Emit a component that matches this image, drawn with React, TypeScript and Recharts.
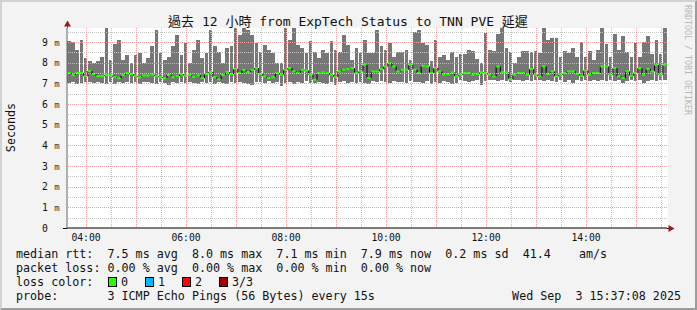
import React from 'react';
import { ComposedChart, Bar, XAxis, YAxis, CartesianGrid } from 'recharts';

// 12 hours of 5-minute consolidated RTT values (ms)
const maxMs = [
  9.03, 9.0, 8.62, 9.11, 8.22, 8.06, 7.98, 8.06, 8.3, 9.68,
  8.14, 8.9, 9.11, 8.14, 8.38, 7.98, 8.38, 8.46, 7.98, 8.22,
  8.79, 9.59, 8.46, 8.14, 8.3, 8.79, 9.35, 8.38, 8.95, 7.98,
  8.62, 9.11, 8.22, 8.46, 9.59, 8.79, 8.54, 7.98, 8.71, 8.8,
  9.68, 9.35, 9.68, 9.59, 9.35, 8.95, 8.54, 8.87, 8.62, 8.46,
  7.98, 8.0, 9.68, 9.11, 9.68, 8.87, 8.71, 8.46, 9.03, 8.54,
  8.22, 8.62, 8.46, 9.03, 8.62, 8.54, 9.35, 8.87, 8.14, 8.71,
  8.46, 9.11, 8.46, 8.46, 9.59, 8.79, 8.62, 8.95, 8.3, 8.54,
  8.54, 8.62, 8.14, 9.51, 9.59, 8.95, 8.87, 8.06, 9.11, 8.3,
  8.38, 8.14, 8.54, 8.3, 8.4, 8.4, 8.6, 8.55, 8.2, 8.0,
  9.45, 8.6, 8.55, 9.4, 9.68, 8.7, 8.5, 8.0, 8.3, 8.55,
  8.55, 8.5, 8.55, 8.45, 9.68, 9.1, 9.2, 9.2, 8.3, 8.55,
  8.45, 8.7, 8.3, 9.0, 8.3, 8.55, 8.15, 8.6, 9.68, 8.9,
  8.3, 9.4, 8.6, 9.3, 8.5, 8.3, 8.95, 8.3, 9.0, 9.3,
  8.4, 9.1, 8.4, 9.68,
];

const minMs = [
  7.02, 7.06, 6.98, 7.03, 7.05, 7.08, 7.0, 7.06, 7.02, 6.97,
  7.05, 6.95, 7.07, 7.02, 7.08, 7.02, 7.05, 6.97, 7.06, 7.08,
  7.03, 6.97, 7.07, 7.0, 6.92, 7.05, 7.02, 7.07, 7.03, 7.08,
  7.02, 6.97, 7.05, 7.01, 7.07, 6.99, 7.05, 7.02, 6.95, 7.07,
  7.02, 7.09, 7.03, 6.97, 6.9, 7.08, 7.06, 7.03, 7.1, 7.04,
  7.08, 6.85, 7.03, 7.08, 6.98, 7.06, 7.02, 7.1, 7.04, 7.0,
  7.08, 7.03, 6.98, 7.06, 6.93, 7.08, 7.1, 7.03, 7.06, 7.0,
  7.08, 7.04, 6.98, 7.1, 7.06, 7.13, 7.08, 7.03, 7.1, 7.06,
  7.08, 7.0, 7.12, 7.06, 7.08, 7.04, 7.1, 6.98, 7.08, 7.03,
  7.1, 7.06, 6.96, 7.03, 7.15, 7.13, 7.07, 7.13, 7.15, 6.92,
  7.1, 7.15, 7.17, 7.11, 7.15, 7.13, 7.07, 7.15, 7.17, 7.1,
  7.15, 7.11, 7.17, 7.15, 7.1, 7.15, 7.13, 7.09, 7.17, 7.05,
  7.15, 7.0, 7.17, 7.13, 7.15, 7.1, 7.17, 7.11, 7.15, 7.13,
  7.17, 7.1, 7.15, 7.03, 7.13, 7.17, 7.1, 7.15, 7.0, 7.13,
  7.15, 7.1, 7.17, 7.15,
];

const medMs = [
  7.5, 7.4, 7.5, 7.5, 7.35, 7.6, 7.45, 7.35, 7.35, 7.4,
  7.38, 7.3, 7.25, 7.4, 7.5, 7.45, 7.35, 7.3, 7.38, 7.38,
  7.42, 7.35, 7.3, 7.25, 7.4, 7.3, 7.35, 7.45, 7.38, 7.4,
  7.32, 7.38, 7.25, 7.45, 7.55, 7.3, 7.2, 7.4, 7.55, 7.45,
  7.7, 7.5, 7.65, 7.55,
  7.66, 7.74, 7.45, 7.34, 7.26, 7.3,
  7.5, 7.42, 7.66, 7.74, 7.58, 7.5, 7.66, 7.62, 7.42, 7.18,
  7.5, 7.53, 7.5, 7.4, 7.31, 7.58, 7.66, 7.69, 7.74, 7.5,
  7.58, 7.9, 7.26, 7.58, 7.58, 7.69, 7.82, 7.98, 7.82, 7.58,
  7.66, 7.66, 7.9, 7.66, 7.5, 7.85, 7.82, 7.5, 7.74, 7.58,
  7.42, 7.45, 7.53, 7.34,
  7.42, 7.5, 7.5, 7.42, 7.45, 7.53,
  7.5, 7.42, 7.34, 7.82, 7.53, 7.53, 7.2, 7.42, 7.5, 7.5,
  7.42, 7.69, 7.42, 7.34, 7.82, 7.46, 7.58, 7.34, 7.42, 7.5,
  7.58, 7.58, 7.46, 7.37, 7.62, 7.42, 7.5, 7.5, 7.82, 7.82,
  7.42, 7.74, 7.34, 7.26, 7.58, 7.37, 7.5, 7.74, 7.42, 7.7,
  7.58, 7.9, 7.42, 7.9,
];

// time axis (hours of day); window ends 15:37:08, 12 hours long, 5-minute steps
const START_HOUR = 3 + 37 / 60 + 8 / 3600;
const SPAN_HOURS = 12;
const STEPS_PER_HOUR = 12;
const xTickHours = [4, 6, 8, 10, 12, 14];
const xMajorGrid = [4, 5, 6, 7, 8, 9, 10, 11, 12, 13, 14, 15];
const xMinorGrid = [4.5, 5.5, 6.5, 7.5, 8.5, 9.5, 10.5, 11.5, 12.5, 13.5, 14.5, 15.5];
// y ticks: whole milliseconds are labelled major lines, halves are minor lines
const yTicks = [0, 0.5, 1, 1.5, 2, 2.5, 3, 3.5, 4, 4.5, 5, 5.5, 6, 6.5, 7, 7.5, 8, 8.5, 9, 9.5];
const Y_TOP = 9.68;
const MEDIAN_BAND = 0.1;

const title = '過去 12 小時 from ExpTech Status to TNN PVE 延遲';
const legendLines = [
  'median rtt:  7.5 ms avg  8.0 ms max  7.1 ms min  7.9 ms now  0.2 ms sd  41.4    am/s',
  'packet loss: 0.00 % avg  0.00 % max  0.00 % min  0.00 % now',
];
const lossColors = [
  { label: '0', color: '#26ff00' },
  { label: '1', color: '#00b8ff' },
  { label: '2', color: '#ff0000' },
  { label: '3/3', color: '#a00000' },
];
const probeText = 'probe:       3 ICMP Echo Pings (56 Bytes) every 15s';
const dateText = 'Wed Sep  3 15:37:08 2025';

const data = maxMs.map((mx, i) => ({
  i,
  t: START_HOUR + (i + 0.5) / STEPS_PER_HOUR,
  lo: minMs[i],
  hi: mx,
  span: mx - minMs[i],
  medBase: medMs[i] - MEDIAN_BAND / 2,
  medBand: MEDIAN_BAND,
  med: medMs[i],
  prev: i > 0 ? medMs[i - 1] : medMs[i],
}));

const MONO = '"DejaVu Sans Mono", "Noto Sans CJK TC", monospace';
const MAJOR = '#eea0a0';
const MINOR = '#c4c4c4';
const BAR_W = 600 / 144;
const PLOT_W = 600;

const MedianShape = (props: any) => {
  const { x, y, width, height, payload } = props;
  if (height == null || !payload) return null;
  const ppu = height / MEDIAN_BAND;
  const yc = y + height / 2;
  const yPrev = yc + (payload.med - payload.prev) * ppu;
  return (
    <g>
      {payload.i > 0 && Math.abs(yPrev - yc) > 0.5 ? (
        <line x1={x} x2={x} y1={yc} y2={yPrev} stroke="#000" strokeWidth={1} />
      ) : null}
      <rect x={x} y={y} width={width} height={height} fill="#26ff00" />
    </g>
  );
};

const fmtHour = (h: number) => `${String(h).padStart(2, '0')}:00`;

const XTick = (props: any) => {
  const { x, y, payload } = props;
  return (
    <text x={x} y={y + 13.3} textAnchor="middle" fontFamily={MONO} fontSize={9.75} fill="#111">
      {fmtHour(payload.value)}
    </text>
  );
};

const YTick = (props: any) => {
  const { x, y, payload } = props;
  const v = payload.value;
  const ys = Math.round(y) + 0.5;
  if (!Number.isInteger(v)) {
    return <line x1={x + 1} x2={x + PLOT_W} y1={ys} y2={ys} stroke={MINOR} strokeDasharray="1 1" />;
  }
  return (
    <g>
      {v !== 0 ? <line x1={x + 1} x2={x + PLOT_W} y1={ys} y2={ys} stroke={MAJOR} strokeDasharray="1 1" /> : null}
      <text x={x - 22} y={y + 3.5} textAnchor="middle" fontFamily={MONO} fontSize={9.75} fill="#111">
        {v}
      </text>
      {v !== 0 ? (
        <text x={x - 10} y={y + 3.5} textAnchor="middle" fontFamily={MONO} fontSize={9} fill="#333">
          m
        </text>
      ) : null}
    </g>
  );
};

const timeDomain = [START_HOUR, START_HOUR + SPAN_HOURS];

export default function App() {
  return (
    <div style={{ position: 'absolute', left: 0, top: 0, width: 697, height: 310, background: '#f3f3f3' }}>
      <style>{`.smoke path, .smoke rect { shape-rendering: crispEdges; }
.gridtop line { shape-rendering: crispEdges; }`}</style>
      <div
        style={{
          position: 'absolute', left: 0, top: 0, width: 697, height: 310, boxSizing: 'border-box',
          borderTop: '2px solid #d2d2d2', borderLeft: '2px solid #d2d2d2',
          borderBottom: '2px solid #9c9c9c', borderRight: '2px solid #9c9c9c',
        }}
      />
      <div style={{ position: 'absolute', left: 67, top: 28, width: 601, height: 200, background: '#ffffff' }} />
      <div style={{ position: 'absolute', left: 0, top: 0 }}>
        <ComposedChart
          width={697}
          height={310}
          data={data}
          margin={{ top: 28, right: 30, left: 0, bottom: 62 }}
          barCategoryGap={0}
          barGap={0}
        >
          <XAxis
            dataKey="t"
            type="number"
            domain={timeDomain}
            allowDataOverflow
            ticks={xTickHours}
            interval={0}
            tick={<XTick />}
            tickLine={false}
            tickSize={0}
            tickMargin={0}
            height={20}
            axisLine={{ stroke: '#000', strokeWidth: 1 }}
          />
          <XAxis xAxisId="s" dataKey="i" type="category" hide />
          <XAxis xAxisId="m" dataKey="i" type="category" hide />
          <Bar xAxisId="s" dataKey="lo" stackId="smoke" fill="transparent" barSize={BAR_W} isAnimationActive={false} />
          <Bar xAxisId="s" dataKey="span" stackId="smoke" fill="#777777" className="smoke" barSize={BAR_W} isAnimationActive={false} />
          <Bar xAxisId="m" dataKey="medBase" stackId="med" fill="transparent" barSize={BAR_W} isAnimationActive={false} />
          <Bar xAxisId="m" dataKey="medBand" stackId="med" shape={<MedianShape />} barSize={BAR_W} isAnimationActive={false} />
          <YAxis
            domain={[0, Y_TOP]}
            allowDataOverflow
            ticks={yTicks}
            interval={0}
            tick={<YTick />}
            tickLine={false}
            tickSize={0}
            tickMargin={0}
            width={67}
            axisLine={{ stroke: '#666', strokeWidth: 1 }}
          />
        </ComposedChart>
      </div>
      {/* vertical grid drawn over the data, as rrdtool does */}
      <div className="gridtop" style={{ position: 'absolute', left: 0, top: 0, pointerEvents: 'none' }}>
        <ComposedChart
          width={697}
          height={310}
          data={data}
          margin={{ top: 28, right: 30, left: 67, bottom: 82 }}
        >
          <XAxis xAxisId="minor" dataKey="t" type="number" domain={timeDomain} allowDataOverflow ticks={xMinorGrid} interval={0} hide />
          <XAxis xAxisId="major" dataKey="t" type="number" domain={timeDomain} allowDataOverflow ticks={xMajorGrid} interval={0} hide />
          <YAxis yAxisId="g" dataKey="hi" type="number" domain={[0, Y_TOP]} allowDataOverflow hide />
          <CartesianGrid xAxisId="minor" yAxisId="g" horizontal={false} syncWithTicks stroke={MINOR} strokeDasharray="1 1" />
          <CartesianGrid xAxisId="major" yAxisId="g" horizontal={false} syncWithTicks stroke={MAJOR} strokeDasharray="1 1" />
        </ComposedChart>
      </div>
      <svg width={697} height={310} style={{ position: 'absolute', left: 0, top: 0, pointerEvents: 'none' }}>
        <line x1={67.5} x2={67.5} y1={22} y2={28} stroke="#666" strokeWidth={1} />
        <polygon points="67.5,20.5 64,26.5 71,26.5" fill="#9b1c1c" />
        <line x1={63} x2={67} y1={228.5} y2={228.5} stroke="#000" strokeWidth={1} />
        <line x1={667} x2={670} y1={228.5} y2={228.5} stroke="#000" strokeWidth={1} />
        <polygon points="674.5,228.5 668.5,225 668.5,232" fill="#9b1c1c" />
        <text x={348} y={26} textAnchor="middle" fontFamily={MONO} fontSize={13} fill="#111">
          {title}
        </text>
        <text transform="translate(14.5,127.5) rotate(-90)" textAnchor="middle" fontFamily={MONO} fontSize={11.7} fill="#111">
          Seconds
        </text>
        <text transform="translate(685,60) rotate(90)" textAnchor="middle" fontFamily={MONO} fontSize={8.3} fill="#b8b8b8">
          RRDTOOL / TOBI OETIKER
        </text>
        {legendLines.map((s, k) => (
          <text key={k} x={16} y={258 + k * 14} fontFamily={MONO} fontSize={11.7} fill="#111" xmlSpace="preserve" style={{ whiteSpace: 'pre' }}>
            {s}
          </text>
        ))}
        <text x={16} y={286} fontFamily={MONO} fontSize={11.7} fill="#111">loss color:</text>
        {lossColors.map((c, k) => (
          <g key={c.label}>
            <rect x={108.5 + k * 37} y={277.5} width={8} height={9} fill={c.color} stroke="#000" strokeWidth={1} />
            <text x={121 + k * 37} y={286} fontFamily={MONO} fontSize={11.7} fill="#111">{c.label}</text>
          </g>
        ))}
        <text x={16} y={300} fontFamily={MONO} fontSize={11.7} fill="#111" xmlSpace="preserve" style={{ whiteSpace: 'pre' }}>
          {probeText}
        </text>
        <text x={681} y={300} textAnchor="end" fontFamily={MONO} fontSize={11.7} fill="#111" xmlSpace="preserve" style={{ whiteSpace: 'pre' }}>
          {dateText}
        </text>
      </svg>
    </div>
  );
}
